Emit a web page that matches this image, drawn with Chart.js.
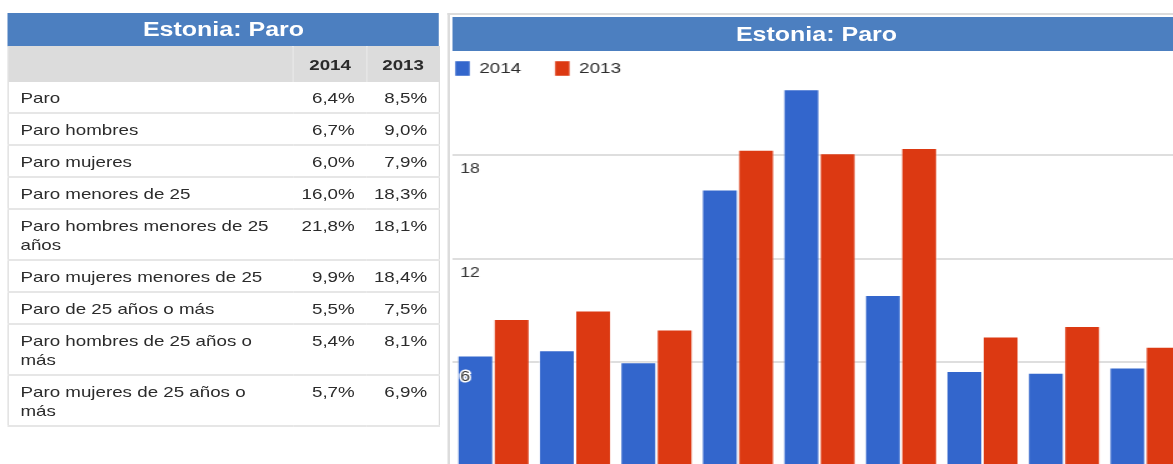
<!DOCTYPE html>
<html lang="es">
<head>
<meta charset="UTF-8">
<title>Estonia: Paro</title>
<script src="https://cdn.jsdelivr.net/npm/chart.js@4.4.1/dist/chart.umd.min.js"></script>
<style>
    html, body { margin: 0; padding: 0; overflow: hidden; background: #fff; }
    body { width: 1173px; height: 464px; }
    /* the reference is a horizontally stretched screenshot, so the page is laid out narrow and stretched */
    #page { position: relative; width: 940px; height: 464px; transform: scaleX(1.25); transform-origin: 0 0;
            font-family: "Liberation Sans", Arial, sans-serif; color: #2b2b2b; }
    .head { position: absolute; background: #4c7fc0; color: #fff; font-weight: bold; font-size: 20px; text-align: center; }
    #leftHead { left: 6.4px; top: 13px; width: 344.8px; height: 33px; line-height: 33px; }
    #tbl { position: absolute; left: 6.4px; top: 46px; width: 344.8px; border-collapse: collapse;
           font-size: 15px; line-height: 19px; border: 1px solid #dcdcdc; table-layout: fixed; }
    #tbl th { background: #dcdcdc; font-weight: bold; text-align: right; padding: 8px 12px 8px 0; border-left: 1px solid #e8e8e8; }
    #tbl th:first-child { border-left: none; }
    #tbl td { padding: 6px 9.5px 5px 9px; border-bottom: 2px solid #e6e6e6; vertical-align: top; }
    #tbl td.num { text-align: right; padding-left: 0; }
    #chartBox { position: absolute; left: 358.4px; top: 13px; width: 620px; height: 470px;
                border-left: 2px solid #dcdcdc; border-top: 2px solid #dcdcdc; box-sizing: border-box; }
    #rightHead { left: 362.4px; top: 16.7px; width: 581.6px; height: 34.3px; line-height: 34px; }
    #chartWrap { position: absolute; left: 337px; top: 34px; width: 612px; height: 432px; }
</style>
</head>
<body>
<div id="page">
    <div class="head" id="leftHead">Estonia: Paro</div>
    <table id="tbl">
        <colgroup><col style="width:228px"><col style="width:58.4px"><col style="width:58.4px"></colgroup>
        <thead><tr><th></th><th id="h1"></th><th id="h2"></th></tr></thead>
        <tbody></tbody>
    </table>

    <div id="chartBox"></div>
    <div class="head" id="rightHead">Estonia: Paro</div>
    <div id="chartWrap"><canvas id="paroChart"></canvas></div>
</div>

<script>
    const categories = [
        "Paro",
        "Paro hombres",
        "Paro mujeres",
        "Paro menores de 25",
        "Paro hombres menores de 25 años",
        "Paro mujeres menores de 25",
        "Paro de 25 años o más",
        "Paro hombres de 25 años o más",
        "Paro mujeres de 25 años o más"
    ];
    const seriesNames = ["2014", "2013"];
    const values2014 = [6.4, 6.7, 6.0, 16.0, 21.8, 9.9, 5.5, 5.4, 5.7];
    const values2013 = [8.5, 9.0, 7.9, 18.3, 18.1, 18.4, 7.5, 8.1, 6.9];
    const yTicks = [6, 12, 18];

    function fmt(v) {
        return v.toFixed(1).replace(".", ",") + "%";
    }

    // table on the left
    document.getElementById("h1").textContent = seriesNames[0];
    document.getElementById("h2").textContent = seriesNames[1];
    const tbody = document.querySelector("#tbl tbody");
    for (let i = 0; i < categories.length; i++) {
        const tr = document.createElement("tr");
        tr.innerHTML = "<td>" + categories[i] + "</td><td class='num'>" + fmt(values2014[i]) +
            "</td><td class='num'>" + fmt(values2013[i]) + "</td>";
        tbody.appendChild(tr);
    }

    Chart.defaults.font.family = '"Liberation Sans", Arial, sans-serif';

    const barStyle = {
        borderColor: "rgba(255,255,255,0.45)",
        borderWidth: 1,
        categoryPercentage: 0.89,
        barPercentage: 1
    };

    new Chart(document.getElementById("paroChart"), {
        type: "bar",
        data: {
            labels: categories,
            datasets: [
                Object.assign({ label: seriesNames[0], data: values2014, backgroundColor: "#3366cc" }, barStyle),
                Object.assign({ label: seriesNames[1], data: values2013, backgroundColor: "#dc3912" }, barStyle)
            ]
        },
        options: {
            responsive: true,
            maintainAspectRatio: false,
            animation: false,
            plugins: {
                legend: {
                    align: "start",
                    maxHeight: 43.2,
                    labels: { boxWidth: 12, boxHeight: 15, padding: 27, color: "#2b2b2b", font: { size: 15 } }
                },
                tooltip: { enabled: false }
            },
            scales: {
                x: { display: false },
                y: {
                    position: "left", min: 0, max: 22.5,
                    border: { display: false },
                    grid: { color: "#dedede", lineWidth: 2, drawTicks: false },
                    afterFit: s => { s.width = 25.2; s.paddingTop = 0; s.paddingBottom = 0; },
                    ticks: {
                        stepSize: 6, includeBounds: false,
                        mirror: true, padding: 6, labelOffset: 14.5, z: 1,
                        color: "#333", font: { size: 14 },
                        textStrokeColor: "#fff", textStrokeWidth: 3,
                        callback: v => yTicks.includes(v) ? v : ""
                    }
                }
            }
        }
    });
</script>
</body>
</html>
